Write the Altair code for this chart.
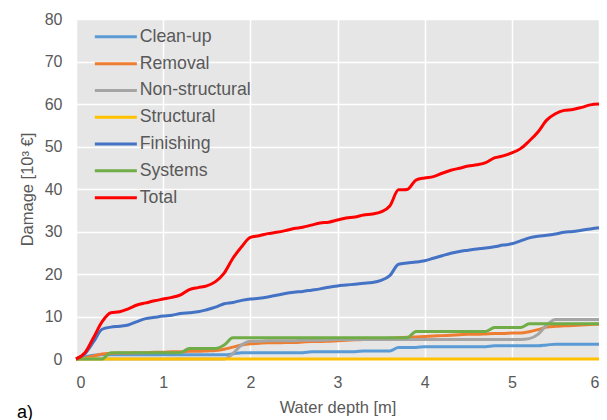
import altair as alt
import pandas as pd

depth = [round(i * 0.1, 1) for i in range(61)]

series_names = ["Clean-up", "Removal", "Non-structural", "Structural", "Finishing", "Systems", "Total"]
series_colors = ["#5B9BD5", "#ED7D31", "#A5A5A5", "#FFC000", "#4472C4", "#70AD47", "#FF0000"]

cleanup = [0, 0.5, 0.9, 1.0, 1.0, 1.0, 1.0, 1.0, 1.0, 1.0,
           1.0, 1.0, 1.0, 1.0, 1.0, 1.0, 1.0, 1.0, 1.2, 1.5,
           1.5, 1.5, 1.5, 1.5, 1.5, 1.5, 1.5, 1.7, 1.7, 1.7,
           1.7, 1.7, 1.7, 1.9, 1.9, 1.9, 1.9, 2.7, 2.7, 2.7,
           2.9, 2.9, 2.9, 2.9, 2.9, 2.9, 2.9, 2.9, 3.1, 3.1,
           3.1, 3.1, 3.1, 3.1, 3.3, 3.5, 3.5, 3.5, 3.5, 3.5,
           3.5]
removal = [0, 0.2, 0.7, 1.2, 1.3, 1.4, 1.4, 1.5, 1.5, 1.6,
           1.6, 1.7, 1.7, 1.8, 1.8, 1.9, 2.0, 2.3, 2.8, 3.3,
           3.6, 3.7, 3.8, 3.8, 3.9, 3.9, 4.0, 4.1, 4.1, 4.2,
           4.3, 4.4, 4.5, 4.6, 4.7, 4.8, 4.9, 5.0, 5.1, 5.2,
           5.3, 5.4, 5.5, 5.6, 5.7, 5.8, 5.8, 5.9, 6.0, 6.0,
           6.1, 6.1, 6.4, 6.9, 7.5, 7.7, 7.8, 7.9, 8.0, 8.1,
           8.2]
nonstructural = [0, 0, 0, 0, 0, 0, 0, 0, 0, 0,
                 0, 0, 0, 0, 0, 0, 0, 0, 1.3, 3.3,
                 4.2, 4.2, 4.3, 4.3, 4.3, 4.3, 4.4, 4.4, 4.4, 4.5,
                 4.6, 4.6, 4.6, 4.6, 4.6, 4.6, 4.6, 4.6, 4.6, 4.6,
                 4.6, 4.6, 4.6, 4.6, 4.6, 4.6, 4.6, 4.6, 4.6, 4.6,
                 4.6, 4.6, 4.8, 5.8, 8.0, 9.3, 9.3, 9.3, 9.3, 9.3,
                 9.3]
structural = [0] * 61
finishing = [0, 1.2, 4.0, 7.0, 7.5, 7.7, 8.0, 8.8, 9.5, 9.8,
             10.1, 10.3, 10.7, 10.9, 11.1, 11.6, 12.2, 13.0, 13.3, 13.8,
             14.1, 14.3, 14.6, 15.0, 15.4, 15.7, 15.9, 16.2, 16.5, 16.9,
             17.2, 17.4, 17.6, 17.8, 18.0, 18.5, 19.6, 22.3, 22.6, 22.8,
             23.1, 23.7, 24.3, 24.9, 25.3, 25.6, 25.9, 26.1, 26.4, 26.8,
             27.1, 27.8, 28.5, 28.9, 29.1, 29.4, 29.8, 30.0, 30.3, 30.6,
             30.9]
systems = [0, 0, 0, 0, 1.5, 1.5, 1.5, 1.5, 1.5, 1.5,
           1.5, 1.5, 1.5, 2.5, 2.5, 2.5, 2.5, 3.3, 5.0, 5.0,
           5.0, 5.0, 5.0, 5.0, 5.0, 5.0, 5.0, 5.0, 5.0, 5.0,
           5.0, 5.0, 5.0, 5.0, 5.0, 5.0, 5.0, 5.0, 5.0, 6.5,
           6.5, 6.5, 6.5, 6.5, 6.5, 6.5, 6.5, 6.5, 7.4, 7.4,
           7.4, 7.4, 8.3, 8.3, 8.3, 8.3, 8.3, 8.3, 8.3, 8.3,
           8.3]
total = [0, 1.4, 5.0, 8.8, 10.9, 11.1, 11.8, 12.7, 13.2, 13.7,
         14.1, 14.5, 15.1, 16.3, 16.8, 17.2, 18.2, 20.2, 23.7, 26.4,
         28.6, 29.0, 29.5, 29.8, 30.2, 30.7, 31.0, 31.5, 32.0, 32.2,
         32.7, 33.2, 33.4, 33.9, 34.1, 34.6, 36.0, 39.8, 39.9, 42.1,
         42.6, 42.9, 43.7, 44.4, 44.9, 45.4, 45.7, 46.2, 47.3, 47.8,
         48.5, 49.5, 51.3, 53.4, 56.2, 57.7, 58.5, 58.7, 59.2, 59.8,
         60.0]

x_ticks = [0, 1, 2, 3, 4, 5, 6]
y_ticks = [0, 10, 20, 30, 40, 50, 60, 70, 80]

all_series = [cleanup, removal, nonstructural, structural, finishing, systems, total]
rows = []
for k, (name, vals) in enumerate(zip(series_names, all_series)):
    for d, v in zip(depth, vals):
        rows.append({"depth": d, "damage": v, "series": name, "k": k})
df = pd.DataFrame(rows)

FONT = "Liberation Sans"
TXT = "#595959"

chart = alt.Chart(df).mark_line(strokeWidth=3, interpolate="monotone").encode(
    x=alt.X("depth:Q",
            scale=alt.Scale(domain=[0, 6], nice=False),
            axis=alt.Axis(values=x_ticks, title="Water depth [m]", labelPadding=15,
                          titlePadding=9, format="d")),
    y=alt.Y("damage:Q",
            scale=alt.Scale(domain=[0, 80], nice=False),
            axis=alt.Axis(values=y_ticks, title="Damage [10³ €]", labelPadding=14,
                          titlePadding=9)),
    color=alt.Color("series:N",
                    scale=alt.Scale(domain=series_names, range=series_colors),
                    legend=alt.Legend(title=None, orient="none", legendX=31, legendY=9,
                                      symbolType="M-3,0H3", symbolSize=196,
                                      symbolStrokeWidth=3, labelOffset=15,
                                      labelFontSize=17.7, labelColor=TXT, labelFont=FONT,
                                      rowPadding=7.8, padding=0)),
    detail="k:O",
).properties(
    width=523, height=340,
    background="#FFFFFF",
    title=alt.TitleParams("a)", orient="bottom", anchor="start", frame="group",
                          dx=-59, dy=-12, offset=0,
                          fontSize=18, font=FONT, fontWeight="normal", color="#000000"),
    autosize=alt.AutoSizeParams(type="none"),
    padding={"left": 76, "top": 19, "right": 8, "bottom": 61},
).configure_view(
    fill="#E6E6E6", stroke=None
).configure_axis(
    domain=False, ticks=False, grid=True, gridColor="#FFFFFF", gridWidth=1.5,
    labelFont=FONT, labelFontSize=16, labelColor=TXT,
    titleFont=FONT, titleFontSize=16.5, titleColor=TXT, titleFontWeight="normal",
)

chart.save("out.html", embed_options={"renderer": "svg", "actions": False})
